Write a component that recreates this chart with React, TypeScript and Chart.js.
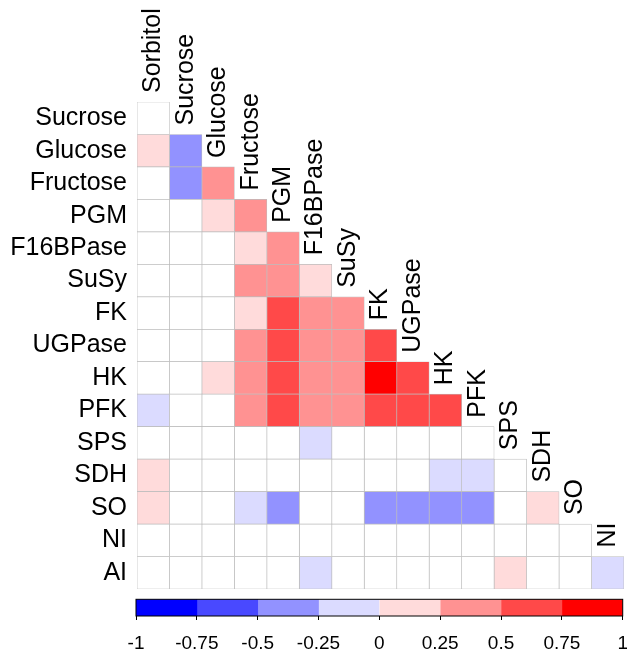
import React, { useEffect, useRef } from 'react';
import { Chart, registerables } from 'chart.js';

Chart.register(...registerables);

const rowNames = ['Sucrose', 'Glucose', 'Fructose', 'PGM', 'F16BPase', 'SuSy', 'FK', 'UGPase', 'HK', 'PFK', 'SPS', 'SDH', 'SO', 'NI', 'AI'];
const colNames = ['Sorbitol', 'Sucrose', 'Glucose', 'Fructose', 'PGM', 'F16BPase', 'SuSy', 'FK', 'UGPase', 'HK', 'PFK', 'SPS', 'SDH', 'SO', 'NI'];

// Lower-triangle correlations per row (null = blank / not significant)
const rSucrose = [null];
const rGlucose = [0.18, -0.42];
const rFructose = [null, -0.4, 0.4];
const rPGM = [null, null, 0.15, 0.38];
const rF16BPase = [null, null, null, 0.2, 0.4];
const rSuSy = [null, null, null, 0.36, 0.42, 0.16];
const rFK = [null, null, null, 0.18, 0.62, 0.4, 0.38];
const rUGPase = [null, null, null, 0.4, 0.64, 0.4, 0.38, 0.6];
const rHK = [null, null, 0.17, 0.42, 0.66, 0.4, 0.4, 0.82, 0.63];
const rPFK = [-0.16, null, null, 0.4, 0.63, 0.4, 0.4, 0.62, 0.6, 0.58];
const rSPS = [null, null, null, null, null, -0.15, null, null, null, null, null];
const rSDH = [0.14, null, null, null, null, null, null, null, null, -0.13, -0.14, null];
const rSO = [0.15, null, null, -0.2, -0.38, null, null, -0.4, -0.37, -0.39, -0.4, null, 0.14];
const rNI = [null, null, null, null, null, null, null, null, null, null, null, null, null, null];
const rAI = [null, null, null, null, null, -0.16, null, null, null, null, null, 0.16, null, null, -0.12];

const corr: (number | null)[][] = [rSucrose, rGlucose, rFructose, rPGM, rF16BPase, rSuSy, rFK, rUGPase, rHK, rPFK, rSPS, rSDH, rSO, rNI, rAI];

const palette = ['#0000FF', '#4949FF', '#9292FF', '#DBDBFF', '#FFDBDB', '#FF9292', '#FF4949', '#FF0000'];
const binEdges = [-1, -0.75, -0.5, -0.25, 0, 0.25, 0.5, 0.75, 1];
const tickValues = [-1, -0.75, -0.5, -0.25, 0, 0.25, 0.5, 0.75, 1];
const tickLabels = ['-1', '-0.75', '-0.5', '-0.25', '0', '0.25', '0.5', '0.75', '1'];

const FONT = '"Liberation Sans", Arial, sans-serif';

function colorFor(v: number | null | undefined): string {
  if (v === null || v === undefined) return '#FFFFFF';
  const k = Math.min(7, Math.max(0, Math.floor((v + 1) / 0.25)));
  return palette[k];
}

const colLabelPlugin = {
  id: 'colLabels',
  afterDraw(chart: any) {
    const { ctx, scales } = chart;
    const x = scales.x;
    const y = scales.y;
    const half = (y.getPixelForValue(1) - y.getPixelForValue(0)) / 2;
    ctx.save();
    ctx.font = `25px ${FONT}`;
    ctx.fillStyle = '#000';
    ctx.textAlign = 'left';
    ctx.textBaseline = 'middle';
    colNames.forEach((name, j) => {
      const cx = x.getPixelForValue(j + 0.5);
      const top = y.getPixelForValue(j) - half;
      ctx.save();
      ctx.translate(cx, top - 9);
      ctx.rotate(-Math.PI / 2);
      ctx.fillText(name, 0, 0);
      ctx.restore();
    });
    ctx.restore();
  },
};

const framePlugin = {
  id: 'frame',
  afterDatasetsDraw(chart: any) {
    const { ctx, chartArea } = chart;
    ctx.save();
    ctx.strokeStyle = '#000';
    ctx.lineWidth = 1;
    ctx.strokeRect(chartArea.left, chartArea.top, chartArea.right - chartArea.left, chartArea.bottom - chartArea.top);
    ctx.restore();
  },
};

export default function App() {
  const mainRef = useRef<HTMLCanvasElement>(null);
  const barRef = useRef<HTMLCanvasElement>(null);

  useEffect(() => {
    const main = new Chart(mainRef.current!, {
      type: 'bar',
      data: {
        labels: rowNames,
        datasets: colNames.map((c, j) => ({
          label: c,
          data: rowNames.map((_, i) => (i >= j ? [j, j + 1] : null)) as any,
          backgroundColor: rowNames.map((_, i) => (i >= j ? colorFor(corr[i][j]) : 'rgba(0,0,0,0)')),
          borderColor: '#bdbdbd',
          borderWidth: 0.7,
          borderSkipped: false,
          grouped: false,
          barPercentage: 1,
          categoryPercentage: 1,
        })),
      },
      options: {
        indexAxis: 'y',
        responsive: false,
        animation: false,
        events: [],
        layout: { padding: { top: 102, right: 3, bottom: 6, left: 0 } },
        plugins: { legend: { display: false }, tooltip: { enabled: false } },
        scales: {
          x: { type: 'linear', min: 0, max: 15, display: false },
          y: {
            type: 'category',
            offset: true,
            grid: { display: false, drawTicks: false },
            border: { display: false },
            ticks: { color: '#000', font: { family: FONT, size: 25 }, padding: 10, autoSkip: false },
            afterFit: (s: any) => {
              s.width = 137;
              s.paddingTop = 0;
              s.paddingBottom = 0;
            },
          },
        },
      } as any,
      plugins: [colLabelPlugin],
    });

    const bar = new Chart(barRef.current!, {
      type: 'bar',
      data: {
        labels: [''],
        datasets: palette.map((c, k) => ({
          data: [[binEdges[k], binEdges[k + 1]]] as any,
          backgroundColor: c,
          borderWidth: 0,
          grouped: false,
          barPercentage: 1,
          categoryPercentage: 1,
        })),
      },
      options: {
        indexAxis: 'y',
        responsive: false,
        animation: false,
        events: [],
        layout: { padding: { left: 136, right: 16.7, top: 4.3, bottom: 0 } },
        plugins: { legend: { display: false }, tooltip: { enabled: false } },
        scales: {
          y: { display: false },
          x: {
            type: 'linear',
            min: -1,
            max: 1,
            afterBuildTicks: (s: any) => {
              s.ticks = tickValues.map((v) => ({ value: v }));
            },
            ticks: {
              callback: (_v: any, i: number) => tickLabels[i],
              color: '#000',
              font: { family: FONT, size: 19 },
              padding: 12,
              maxRotation: 0,
              autoSkip: false,
            },
            grid: { drawOnChartArea: false, drawTicks: true, tickLength: 4, color: '#000', lineWidth: 1 },
            border: { display: false },
            afterFit: (s: any) => {
              s.height = 37;
            },
          },
        },
      } as any,
      plugins: [framePlugin],
    });

    return () => {
      main.destroy();
      bar.destroy();
    };
  }, []);

  return (
    <div style={{ position: 'absolute', left: 0, top: 0, width: 627, height: 653, overflow: 'hidden', background: '#fff' }}>
      <canvas ref={mainRef} width={627} height={595} style={{ position: 'absolute', left: 0, top: 0 }} />
      <canvas ref={barRef} width={640} height={58} style={{ position: 'absolute', left: 0, top: 595 }} />
    </div>
  );
}
